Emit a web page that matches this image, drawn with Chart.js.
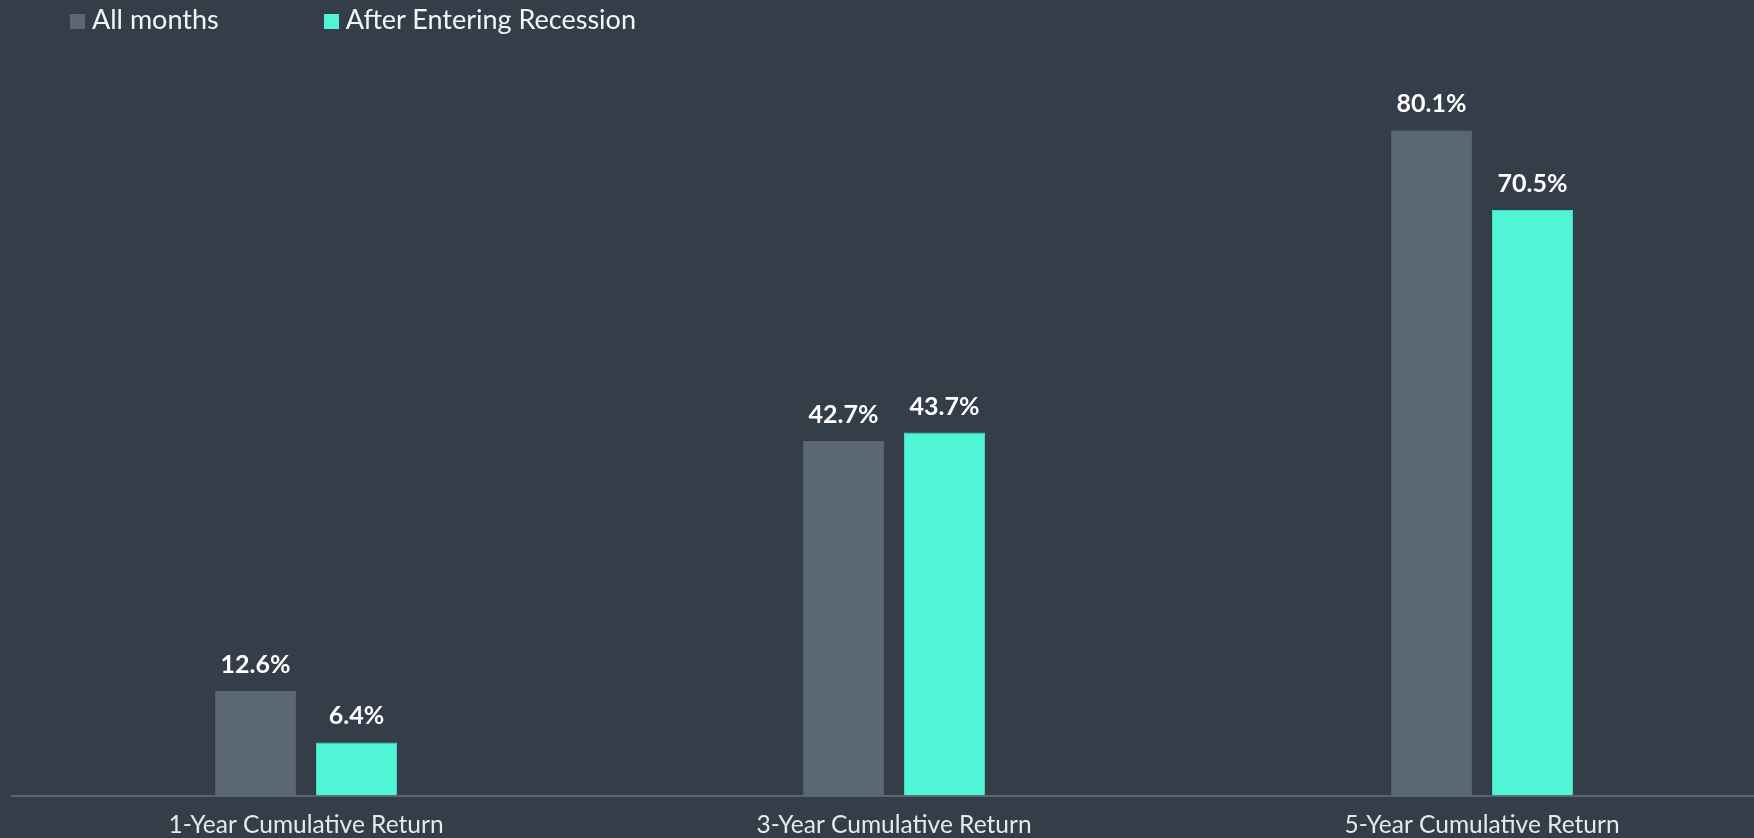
<!DOCTYPE html>
<html>
<head>
<meta charset="utf-8">
<script src="https://cdn.jsdelivr.net/npm/chart.js@4/dist/chart.umd.min.js"></script>
<style>
  html, body { margin: 0; padding: 0; background: #333e48; overflow: hidden; }
  body { width: 1754px; height: 838px; position: relative; font-family: Lato, sans-serif; }
  #wrap { position: absolute; left: 0; top: 0; width: 1790px; height: 855px; }
  .legend { position: absolute; top: 3px; left: 70px; color: #f3f5f6; font-size: 27px; line-height: 32px; white-space: nowrap; }
  .legend span { display: inline-block; margin-right: 105px; }
  .legend i { display: inline-block; width: 15px; height: 15px; margin-right: 7px; vertical-align: baseline; }
</style>
</head>
<body>
<div id="wrap"><canvas id="return-chart"></canvas></div>
<div class="legend" id="legend"></div>
<script>
// Chart data
const categories = ['1-Year Cumulative Return', '3-Year Cumulative Return', '5-Year Cumulative Return'];
const allMonths = [12.6, 42.7, 80.1];
const afterRecession = [6.4, 43.7, 70.5];
const seriesNames = ['All months', 'After Entering Recession'];
const seriesColors = ['#5b6773', '#50f5d6'];

// Build legend
document.getElementById('legend').innerHTML = seriesNames.map((name, i) =>
  `<span><i style="background:${seriesColors[i]}"></i>${name}</span>`).join('');

// Value labels above bars
const valueLabels = {
  id: 'valueLabels',
  afterDatasetsDraw(chart) {
    const ctx = chart.ctx;
    ctx.save();
    ctx.fillStyle = '#ffffff';
    ctx.font = 'bold 25px Lato, sans-serif';
    ctx.textAlign = 'center';
    ctx.textBaseline = 'alphabetic';
    chart.data.datasets.forEach((ds, i) => {
      chart.getDatasetMeta(i).data.forEach((bar, j) => {
        ctx.fillText(ds.data[j].toFixed(1) + '%', bar.x, bar.y - 18);
      });
    });
    ctx.restore();
  }
};

const ctx = document.getElementById('return-chart');
new Chart(ctx, {
  type: 'bar',
  data: {
    labels: categories,
    datasets: [
      {
        label: seriesNames[0],
        data: allMonths,
        backgroundColor: seriesColors[0],
        borderColor: '#56616c',
        borderWidth: 1
      },
      {
        label: seriesNames[1],
        data: afterRecession,
        backgroundColor: seriesColors[1],
        borderColor: '#46dcc0',
        borderWidth: 1
      }
    ]
  },
  options: {
    responsive: true,
    maintainAspectRatio: false,
    animation: false,
    categoryPercentage: 0.3435,
    barPercentage: 0.802,
    layout: {
      padding: { left: 12, right: 14, top: 48, bottom: 0 }
    },
    scales: {
      x: {
        grid: { display: false, drawTicks: false },
        border: { display: true, color: '#5a6570', width: 2 },
        ticks: {
          color: '#e6e9eb',
          font: { family: 'Lato, sans-serif', size: 24.5 },
          padding: 15
        }
      },
      y: {
        display: false,
        min: 0,
        max: 90
      }
    },
    plugins: {
      legend: { display: false },
      tooltip: { enabled: false }
    }
  },
  plugins: [valueLabels]
});
</script>
</body>
</html>
